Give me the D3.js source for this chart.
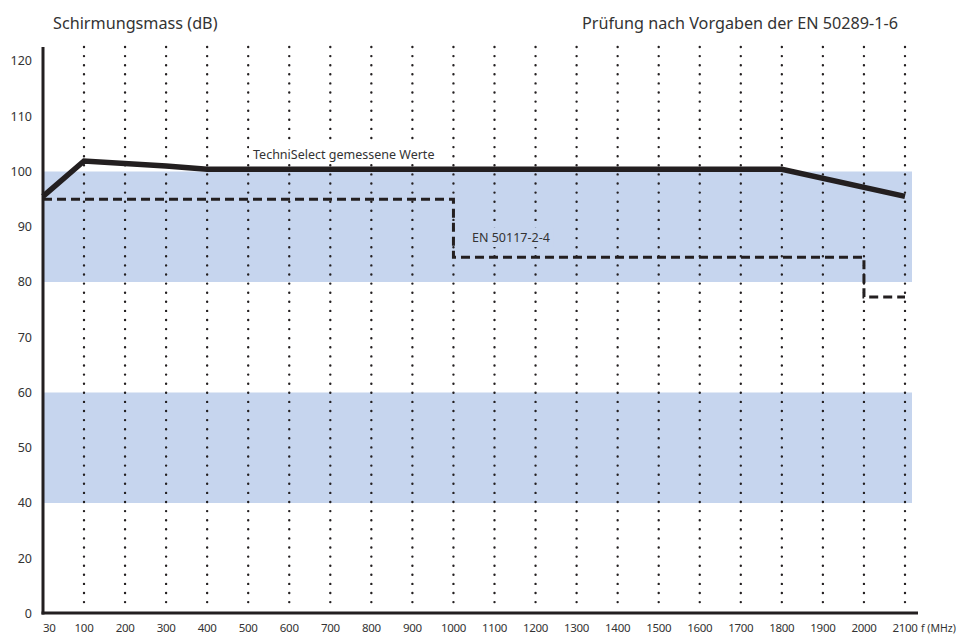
<!DOCTYPE html>
<html>
<head>
<meta charset="utf-8">
<script src="https://cdn.jsdelivr.net/npm/d3@7"></script>
<style>
  body { margin: 0; background: #fff; }
  text { font-family: "Noto Sans", sans-serif; fill: #333; }
</style>
</head>
<body>
<svg id="chart" width="974" height="637"></svg>
<script>
// Data
const xTicks = [30, 100, 200, 300, 400, 500, 600, 700, 800, 900, 1000, 1100, 1200, 1300, 1400, 1500, 1600, 1700, 1800, 1900, 2000, 2100];
const gridFreqs = xTicks.slice(1);
const yTicks = [0, 20, 40, 50, 60, 70, 80, 90, 100, 110, 120];

const measuredFreq = [30, 100, 300, 400, 1800, 2100];
const measuredDb = [95.5, 101.9, 101, 100.4, 100.4, 95.5];

const limitFreq = [30, 1000, 1000, 2000, 2000, 2100];
const limitDb = [95, 95, 84.5, 84.5, 77.3, 77.3];

const bandLow = [80, 40];
const bandHigh = [100, 60];

const bandColor = "#c6d5ee";
const ink = "#231f20";

const dims = { width: 974, height: 637, left: 43, top: 47, bottom: 613, plotRight: 912, axisRight: 918 };

const svg = d3.select("#chart");

// Both axes are compressed at the start, so use piecewise scales
const x = d3.scaleLinear()
    .domain([30, 100, 2100])
    .range([dims.left, 84, 905]);

const y = d3.scaleLinear()
    .domain([0, 20, 40, 120])
    .range([613.5, 558.25, 503, 61]);

// Blue bands
svg.selectAll("rect.band")
    .data(bandLow)
    .enter()
    .append("rect")
    .attr("class", "band")
    .attr("x", dims.left)
    .attr("width", dims.plotRight - dims.left)
    .attr("y", (d, i) => y(bandHigh[i]))
    .attr("height", (d, i) => y(d) - y(bandHigh[i]))
    .attr("fill", bandColor);

// Dotted vertical grid
svg.selectAll("line.grid")
    .data(gridFreqs)
    .enter()
    .append("line")
    .attr("class", "grid")
    .attr("x1", d => x(d))
    .attr("x2", d => x(d))
    .attr("y1", dims.top)
    .attr("y2", 608)
    .attr("stroke", ink)
    .attr("stroke-width", 2.4)
    .attr("stroke-linecap", "round")
    .attr("stroke-dasharray", "0 9.1");

// Series labels sit on a small box that hides the grid dots
function seriesLabel(text, lx, ly, bg) {
    const g = svg.append("g");
    const box = g.append("rect").attr("fill", bg);
    const t = g.append("text")
        .attr("x", lx)
        .attr("y", ly)
        .style("font-size", "12.5px")
        .text(text);
    const bb = t.node().getBBox();
    box.attr("x", bb.x - 4).attr("y", bb.y - 1)
        .attr("width", bb.width + 8).attr("height", bb.height + 2);
}

seriesLabel("TechniSelect gemessene Werte", 253, 159, "#fff");
seriesLabel("EN 50117-2-4", 472, 242, bandColor);

// Limit line (dashed)
const line = d3.line()
    .x(d => x(d[0]))
    .y(d => y(d[1]));

svg.append("path")
    .datum(limitFreq.map((f, i) => [f, limitDb[i]]))
    .attr("d", line)
    .attr("fill", "none")
    .attr("stroke", ink)
    .attr("stroke-width", 3)
    .attr("stroke-dasharray", "9 5");

// Measured values (thick line)
svg.append("path")
    .datum(measuredFreq.map((f, i) => [f, measuredDb[i]]))
    .attr("d", line)
    .attr("fill", "none")
    .attr("stroke", ink)
    .attr("stroke-width", 5.5);

// Axes lines
svg.append("line")
    .attr("x1", dims.left).attr("x2", dims.left)
    .attr("y1", dims.top).attr("y2", dims.bottom + 1.5)
    .attr("stroke", ink).attr("stroke-width", 3);

svg.append("line")
    .attr("x1", dims.left - 1.5).attr("x2", dims.axisRight)
    .attr("y1", dims.bottom).attr("y2", dims.bottom)
    .attr("stroke", ink).attr("stroke-width", 3);

// Tick labels
svg.selectAll("text.ytick")
    .data(yTicks)
    .enter()
    .append("text")
    .attr("class", "ytick")
    .attr("x", 32)
    .attr("y", d => y(d))
    .attr("dy", "0.35em")
    .attr("text-anchor", "end")
    .style("font-size", "12.5px")
    .text(d => d);

svg.selectAll("text.xtick")
    .data(xTicks)
    .enter()
    .append("text")
    .attr("class", "xtick")
    .attr("x", d => x(d))
    .attr("y", 632)
    .attr("text-anchor", (d, i) => i === 0 ? "start" : "middle")
    .style("font-size", "11.5px")
    .style("letter-spacing", "-0.3px")
    .text(d => d);

svg.append("text")
    .attr("x", 921)
    .attr("y", 632)
    .style("font-size", "10.5px")
    .text("f (MHz)");

// Titles
svg.append("text")
    .attr("x", 53)
    .attr("y", 29)
    .style("font-size", "16.2px")
    .text("Schirmungsmass (dB)");

svg.append("text")
    .attr("x", 898)
    .attr("y", 29)
    .attr("text-anchor", "end")
    .style("font-size", "16.2px")
    .text("Prüfung nach Vorgaben der EN 50289-1-6");
</script>
</body>
</html>
